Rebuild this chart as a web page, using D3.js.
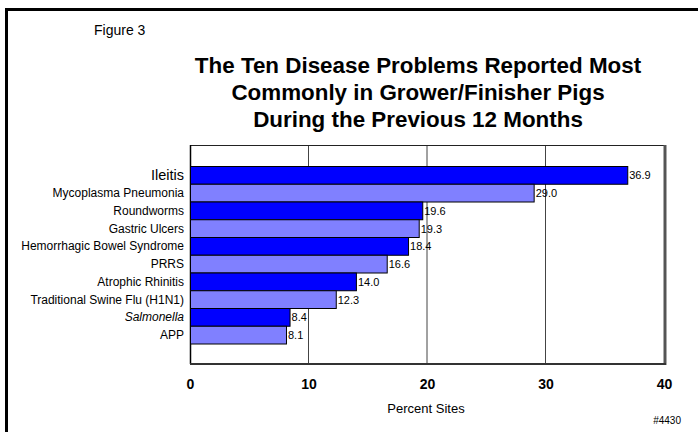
<!DOCTYPE html>
<html>
<head>
<meta charset="utf-8">
<script src="https://cdn.jsdelivr.net/npm/d3@7/dist/d3.min.js"></script>
<style>
html,body{margin:0;padding:0;background:#fff;}
svg{display:block;font-family:"Liberation Sans",Arial,sans-serif;}
</style>
</head>
<body>
<svg id="chart" width="698" height="432"></svg>
<script>
const categories = ["Ileitis","Mycoplasma Pneumonia","Roundworms","Gastric Ulcers","Hemorrhagic Bowel Syndrome","PRRS","Atrophic Rhinitis","Traditional Swine Flu (H1N1)","Salmonella","APP"];
const values = [36.9, 29.0, 19.6, 19.3, 18.4, 16.6, 14.0, 12.3, 8.4, 8.1];
const tickValues = [0, 10, 20, 30, 40];
const titleLines = ["The Ten Disease Problems Reported Most","Commonly in Grower/Finisher Pigs","During the Previous 12 Months"];

const svg = d3.select("#chart");
const W = 698, H = 432;
const plot = {left:190, right:664, top:145, bottom:364};

// outer frame (extends past right/bottom edge)
svg.append("rect").attr("x",6.5).attr("y",9.5).attr("width",W+10).attr("height",H+10)
  .attr("fill","none").attr("stroke","#000").attr("stroke-width",3);

svg.append("text").attr("x",94).attr("y",35).attr("font-size",14).text("Figure 3");

svg.append("g").selectAll("text").data(titleLines).join("text")
  .attr("x",418).attr("y",(d,i)=>73+i*27).attr("text-anchor","middle")
  .attr("font-size",22.4).attr("font-weight","bold").text(d=>d);

const x = d3.scaleLinear().domain([0,40]).range([plot.left, plot.right]);
const y = d3.scaleBand().domain(categories).range([166, 343.5]).padding(0);

// gridlines
svg.append("g").selectAll("line").data(tickValues.filter(v=>v>0 && v<40)).join("line")
  .attr("x1",d=>x(d)).attr("x2",d=>x(d)).attr("y1",plot.top).attr("y2",plot.bottom)
  .attr("stroke","#444").attr("stroke-width",1);

// plot frame
svg.append("line").attr("x1",plot.left).attr("x2",plot.right).attr("y1",plot.top+0.5).attr("y2",plot.top+0.5).attr("stroke","#222").attr("stroke-width",1);
svg.append("line").attr("x1",plot.left+0.5).attr("x2",plot.left+0.5).attr("y1",plot.top).attr("y2",plot.bottom).attr("stroke","#000").attr("stroke-width",1.5);
svg.append("line").attr("x1",plot.right+1).attr("x2",plot.right+1).attr("y1",plot.top).attr("y2",plot.bottom+1).attr("stroke","#555").attr("stroke-width",3);
svg.append("line").attr("x1",plot.left).attr("x2",plot.right+2).attr("y1",plot.bottom).attr("y2",plot.bottom).attr("stroke","#333").attr("stroke-width",2);

// bars
svg.append("g").selectAll("rect").data(categories).join("rect")
  .attr("x",x(0)+0.5).attr("y",d=>y(d)+0.5)
  .attr("width",(d,i)=>x(values[i])-x(0)).attr("height",y.bandwidth())
  .attr("fill",(d,i)=>i%2===0?"#0000ff":"#8080ff")
  .attr("stroke","#000").attr("stroke-width",1);

// value labels
svg.append("g").selectAll("text").data(categories).join("text")
  .attr("x",(d,i)=>x(values[i])+2).attr("y",d=>y(d)+y.bandwidth()/2+4.5)
  .attr("font-size",11).text((d,i)=>values[i].toFixed(1));

// category labels
svg.append("g").selectAll("text").data(categories).join("text")
  .attr("x",184).attr("y",(d,i)=>y(d)+y.bandwidth()/2+(i===0?5.5:4.5))
  .attr("text-anchor","end")
  .attr("font-size",(d,i)=>i===0?14.5:12)
  .attr("font-style",d=>d==="Salmonella"?"italic":"normal")
  .text(d=>d);

// x axis tick labels
const ax = svg.append("g").attr("transform",`translate(0,${plot.bottom+12})`)
  .call(d3.axisBottom(x).tickValues(tickValues).tickSize(0).tickFormat(d3.format("d")));
ax.select(".domain").remove();
ax.selectAll("text").attr("font-size",14).attr("font-weight","bold").attr("fill","#000")
  .attr("font-family","Liberation Sans, Arial, sans-serif");

svg.append("text").attr("x",426).attr("y",413).attr("text-anchor","middle").attr("font-size",13).text("Percent Sites");
svg.append("text").attr("x",681).attr("y",424).attr("text-anchor","end").attr("font-size",10).text("#4430");
</script>
</body>
</html>
